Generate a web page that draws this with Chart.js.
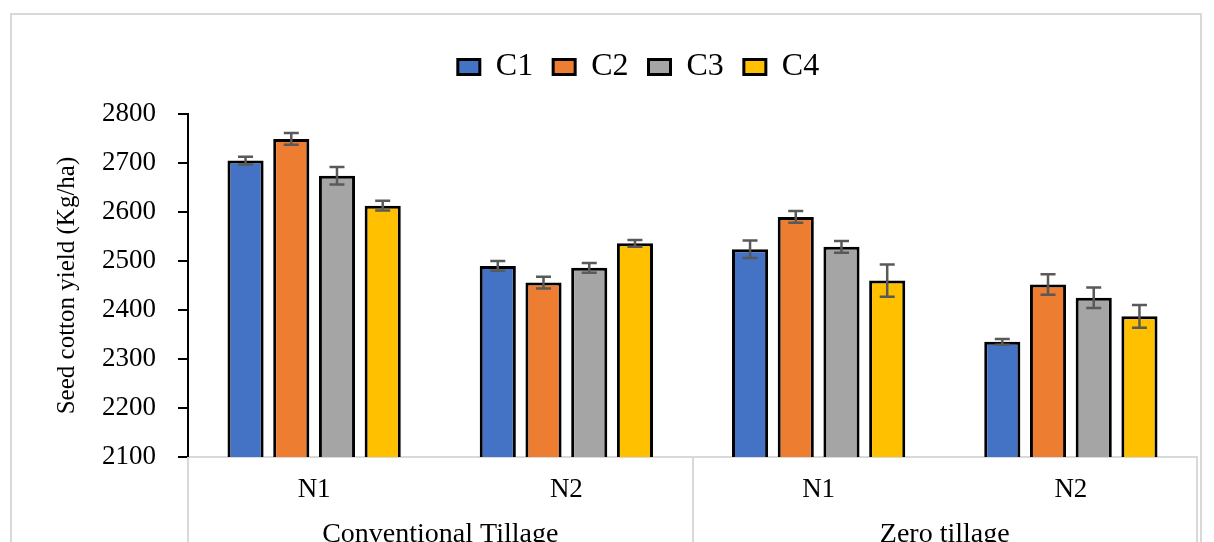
<!DOCTYPE html>
<html>
<head>
<meta charset="utf-8">
<script src="https://cdn.jsdelivr.net/npm/chart.js@4.4.1/dist/chart.umd.min.js"></script>
<style>
  html, body { margin: 0; padding: 0; background: #fff; }
  #wrap { position: relative; width: 1214px; height: 542px; overflow: hidden; }
  #frame { position: absolute; left: 10px; top: 13px; width: 1188px; height: 600px; border: 2px solid #d9d9d9; }
  #chart { position: absolute; left: 0; top: 0; }
</style>
</head>
<body>
<div id="wrap">
  <div id="frame"></div>
  <canvas id="chart" width="1214" height="542"></canvas>
</div>
<script>
const categories = ['N1', 'N2', 'N1', 'N2'];
const tillage = ['Conventional Tillage', 'Zero tillage'];
const seriesNames = ['C1', 'C2', 'C3', 'C4'];
const c1 = [2705, 2490, 2524, 2335];
const c2 = [2749, 2456, 2590, 2452];
const c3 = [2674, 2486, 2529, 2425];
const c4 = [2613, 2536, 2460, 2387];
const c1Err = [8, 10, 18, 6];
const c2Err = [12, 12, 12, 21];
const c3Err = [18, 10, 12, 21];
const c4Err = [10, 7, 33, 23];
const yTicks = [2100, 2200, 2300, 2400, 2500, 2600, 2700, 2800];

const colors = ['#4472C4', '#ED7D31', '#A5A5A5', '#FFC000'];
const serif = 'Liberation Serif';

const values = [c1, c2, c3, c4];
const errors = [c1Err, c2Err, c3Err, c4Err];

// error bars drawn on top of the bars, through the y scale
const errorBars = {
  id: 'errorBars',
  afterDatasetsDraw(chart) {
    const ctx = chart.ctx;
    const y = chart.scales.y;
    ctx.save();
    ctx.strokeStyle = '#595959';
    ctx.lineWidth = 2.5;
    chart.data.datasets.forEach((ds, i) => {
      chart.getDatasetMeta(i).data.forEach((bar, j) => {
        const v = ds.data[j], e = errors[i][j];
        const top = y.getPixelForValue(v + e);
        const bot = y.getPixelForValue(v - e);
        ctx.beginPath();
        ctx.moveTo(bar.x, top); ctx.lineTo(bar.x, bot);
        ctx.moveTo(bar.x - 7.5, top); ctx.lineTo(bar.x + 7.5, top);
        ctx.moveTo(bar.x - 7.5, bot); ctx.lineTo(bar.x + 7.5, bot);
        ctx.stroke();
      });
    });
    ctx.restore();
  }
};

// light grey separators between the tillage groups
const groupLines = {
  id: 'groupLines',
  afterDraw(chart) {
    const ctx = chart.ctx;
    const x = chart.scales.x;
    ctx.save();
    ctx.strokeStyle = '#d9d9d9';
    ctx.lineWidth = 2;
    [-0.5, 1.5, 3.5].forEach(v => {
      const px = Math.round(x.getPixelForValue(v));
      ctx.beginPath();
      ctx.moveTo(px, x.top);
      ctx.lineTo(px, chart.height);
      ctx.stroke();
    });
    ctx.restore();
  }
};

new Chart(document.getElementById('chart'), {
  type: 'bar',
  data: {
    labels: categories,
    datasets: values.map((d, i) => ({
      label: seriesNames[i],
      data: d,
      backgroundColor: colors[i],
      borderColor: '#000',
      borderWidth: 3,
      borderSkipped: 'start',
      categoryPercentage: 0.725,
      barPercentage: 0.79
    }))
  },
  options: {
    responsive: false,
    animation: false,
    layout: { padding: { left: 80, right: 17, top: 31, bottom: 0 } },
    plugins: {
      legend: {
        position: 'top',
        labels: {
          boxWidth: 22,
          boxHeight: 15,
          padding: 20,
          color: '#000',
          font: { family: serif, size: 32 }
        }
      },
      tooltip: { enabled: false }
    },
    scales: {
      x: {
        position: 'bottom',
        grid: { display: false },
        border: { display: true, color: '#d9d9d9', width: 2 },
        ticks: { color: '#000', padding: 9, font: { family: serif, size: 27 } },
        afterFit(s) { s.height = 44; }
      },
      x2: {
        type: 'category',
        position: 'bottom',
        labels: tillage,
        offset: true,
        grid: { display: false },
        border: { display: false },
        ticks: { color: '#000', padding: 9, font: { family: serif, size: 28 } },
        afterFit(s) { s.height = 41; }
      },
      xTop: {
        type: 'category',
        position: 'top',
        labels: [''],
        grid: { display: false },
        border: { display: false },
        ticks: { display: false },
        afterFit(s) {
          const lg = s.chart.legend;
          s.height = Math.max(0, 114 - 31 - (lg ? lg.height : 0));
        }
      },
      y: {
        min: 2100,
        max: 2800,
        afterBuildTicks(s) { s.ticks = yTicks.map(v => ({ value: v })); },
        grid: { display: true, drawOnChartArea: false, drawTicks: true, tickLength: 10, color: '#000', lineWidth: 2 },
        border: { display: true, color: '#000', width: 2 },
        ticks: {
          color: '#000',
          padding: 22,
          font: { family: serif, size: 27 },
          callback: v => String(v)
        },
        title: {
          display: true,
          text: 'Seed cotton yield (Kg/ha)',
          color: '#000',
          font: { family: serif, size: 25 },
          padding: { top: -28, bottom: 0 }
        },
        afterFit(s) { s.width = 108; }
      }
    }
  },
  plugins: [errorBars, groupLines]
});
</script>
</body>
</html>
